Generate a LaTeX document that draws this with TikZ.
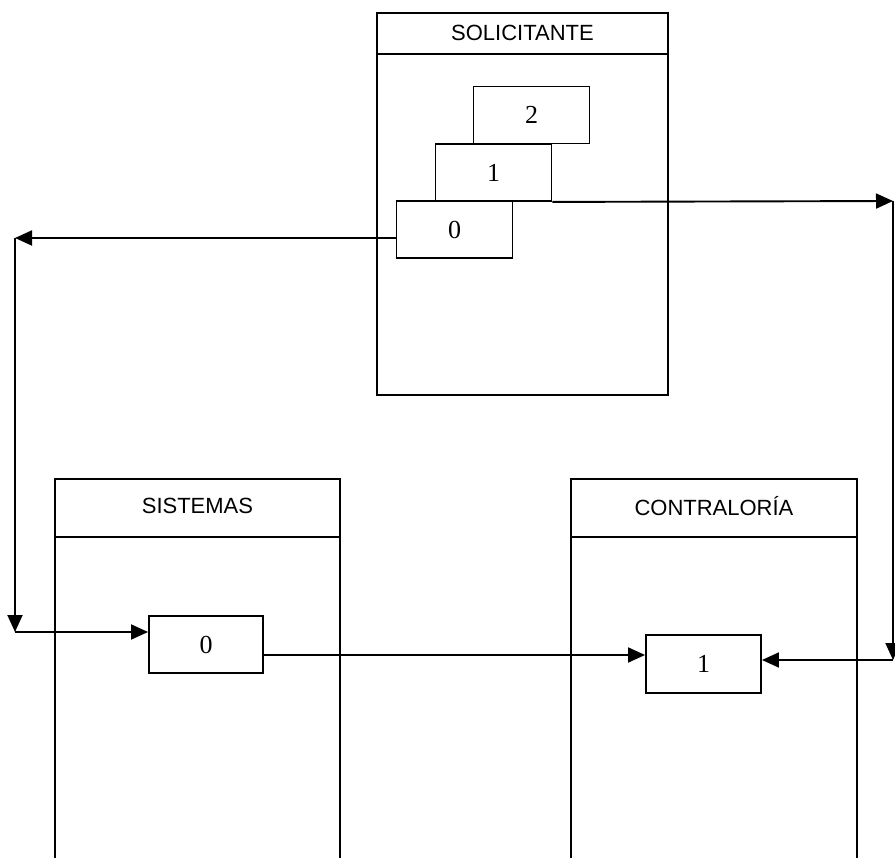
\documentclass[tikz,border=0pt]{standalone}
\usepackage{fontspec}
\setmainfont{Liberation Serif}
\newfontfamily\hdrfont{Liberation Sans}
\usetikzlibrary{arrows.meta}
\begin{document}
\begin{tikzpicture}[x=1pt,y=-1pt,line width=1.9pt,
  lane/.style={draw,line width=1.9pt,anchor=north west,inner sep=0pt},
  hdr/.style={font=\hdrfont\fontsize{22}{26}\selectfont,inner sep=0pt},
  stepbox/.style={draw,fill=white,line width=1.9pt,minimum width=116pt,minimum height=57pt,inner sep=0pt,font=\fontsize{26}{30}\selectfont},
  arr/.style={-{Triangle[length=17pt,width=15pt]},line width=1.9pt}]
\useasboundingbox (0,0) rectangle (895,858);
\clip (0,0) rectangle (895,858);
% lanes
\node[lane,minimum width=291pt,minimum height=382pt] (sol) at (376,12) {};
\node[lane,minimum width=285pt,minimum height=400pt] (sis) at (54,478) {};
\node[lane,minimum width=286pt,minimum height=400pt] (con) at (570,478) {};
\draw ([yshift=-42pt]sol.north west) -- ([yshift=-42pt]sol.north east);
\draw ([yshift=-59pt]sis.north west) -- ([yshift=-59pt]sis.north east);
\draw ([yshift=-59pt]con.north west) -- ([yshift=-59pt]con.north east);
\node[hdr] (solt) at ([yshift=-21pt]sol.north) {SOLICITANTE};
\node[hdr] (sist) at ([yshift=-28pt]sis.north) {SISTEMAS};
\node[hdr] (cont) at ([yshift=-28pt]con.north) {CONTRALORÍA};
% steps
\node[stepbox] (top2) at (531.5,115) {2};
\node[stepbox] (top1) at (493.5,172.5) {1};
\node[stepbox] (top0) at (454.5,229.5) {0};
\node[stepbox,minimum width=114pt] (sis0) at (206,644.5) {0};
\node[stepbox,minimum width=115pt,minimum height=58pt] (con1) at (703.5,664) {1};
% connector points
\coordinate (lt) at (15,238);
\coordinate (lb) at (15,632);
\coordinate (rt) at (893,201);
\coordinate (rb) at (893,660);
% connectors
\draw[arr] ([yshift=-8.5pt]top0.west) -- (lt);
\draw[arr] (lt) -- (lb);
\draw[arr] (lb) -- (sis0.west |- lb);
\draw[arr] (top1.south east) -- (rt);
\draw[arr] (rt) -- (rb);
\draw[arr] (rb) -- (con1.east |- rb);
\draw[arr] ([yshift=-10.5pt]sis0.east) -- ([yshift=9pt]con1.west);
\end{tikzpicture}
\end{document}
